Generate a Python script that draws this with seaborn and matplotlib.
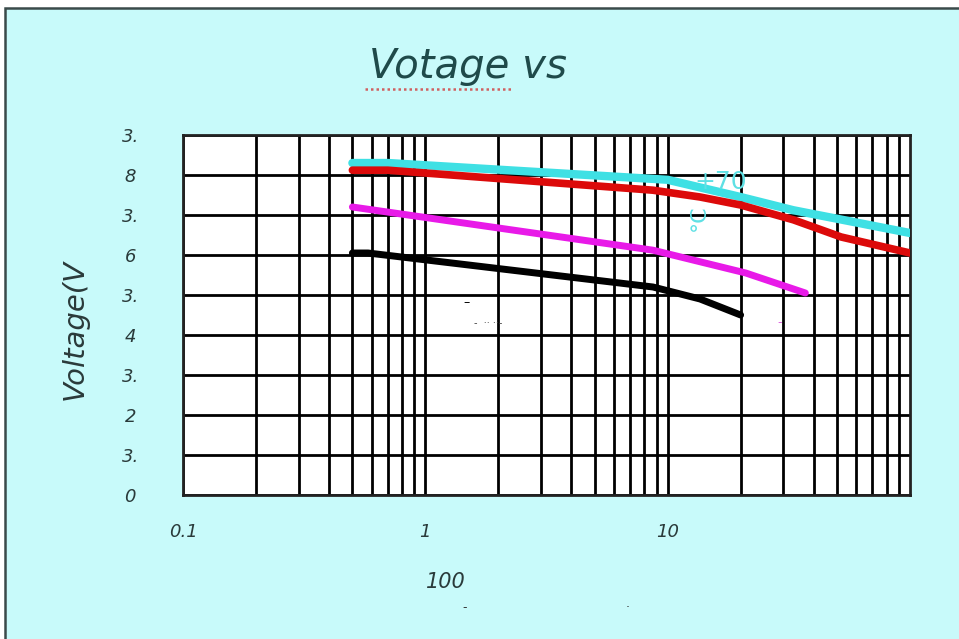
import numpy as np
import pandas as pd
import matplotlib
matplotlib.use("Agg")
import matplotlib.pyplot as plt
from matplotlib.patches import Rectangle
from matplotlib.lines import Line2D
import seaborn as sns

# ---- data ----
cyan_x = [0.5, 0.7, 10, 20, 33, 100]
cyan_y = [8.3, 8.3, 7.88, 7.45, 7.12, 6.55]

red_x = [0.5, 0.7, 8.7, 13.6, 20, 33, 52, 100]
red_y = [8.12, 8.12, 7.62, 7.45, 7.25, 6.88, 6.45, 6.05]

magenta_x = [0.5, 8.7, 21, 37]
magenta_y = [7.2, 6.12, 5.55, 5.05]

black_x = [0.5, 0.58, 8.7, 13.6, 20]
black_y = [6.05, 6.05, 5.2, 4.9, 4.5]

series_names = ["cyan", "red", "magenta", "black"]
series_colors = {"cyan": "#3fe0e4", "red": "#dc0a0a", "magenta": "#e81ae8", "black": "#000000"}
series_widths = {"cyan": 6.0, "red": 5.5, "magenta": 5.0, "black": 5.0}

x_ticks = [0.1, 1, 10]
x_tick_labels = ["0.1", "1", "10"]
y_ticks = [0, 1, 2, 3, 4, 5, 6, 7, 8, 9]
y_tick_labels = ["0", "3.", "2", "3.", "4", "3.", "6", "3.", "8", "3."]

title_text = "Votage vs"
ylabel_text = "Voltage(V"
xlabel_text = "100"

frames = []
for name, xs, ys in [("cyan", cyan_x, cyan_y), ("red", red_x, red_y),
                     ("magenta", magenta_x, magenta_y), ("black", black_x, black_y)]:
    frames.append(pd.DataFrame({"x": xs, "y": ys, "series": name}))
df = pd.concat(frames, ignore_index=True)

sns.set_theme(style="white")
plt.rcParams["font.family"] = ["DejaVu Sans"]

W, H = 959, 639
fig = plt.figure(figsize=(W / 100, H / 100), dpi=100)
fig.patch.set_facecolor("white")
fig.add_artist(Rectangle((5 / W, -0.01), 1.0, (H - 8) / H + 0.01, transform=fig.transFigure,
                         facecolor="#c8fafa", edgecolor="#3a4a4a", linewidth=1.8, zorder=0))

ax = fig.add_axes([183 / W, (H - 495) / H, (910 - 183) / W, (495 - 135) / H])
ax.set_facecolor("white")

ax.set_xscale("log")
ax.set_xlim(0.1, 100)
ax.set_ylim(0, 9)

ax.grid(True, which="both", axis="x", color="black", linewidth=2.0)
ax.grid(True, which="major", axis="y", color="black", linewidth=2.0)
ax.set_axisbelow(True)

for name in series_names:
    sns.lineplot(data=df[df["series"] == name], x="x", y="y", color=series_colors[name],
                 sort=False, estimator=None, linewidth=series_widths[name],
                 legend=False, ax=ax, zorder=3)

ax.set_xticks(x_ticks)
ax.set_xticklabels(x_tick_labels)
ax.set_yticks(y_ticks)
ax.set_yticklabels(y_tick_labels)
ax.tick_params(axis="x", which="both", length=0, pad=20, labelsize=13, colors="#2a3a3a")
ax.tick_params(axis="y", which="both", length=0, pad=38, labelsize=13, colors="#2a3a3a")
for lbl in ax.get_xticklabels():
    lbl.set_fontstyle("italic")
for lbl in ax.get_yticklabels():
    lbl.set_fontstyle("italic")
    lbl.set_horizontalalignment("center")
ax.set_xlabel("")
ax.set_ylabel("")

for s in ax.spines.values():
    s.set_color("#222222")
    s.set_linewidth(2)

ax.set_ylabel(ylabel_text, fontsize=21, fontstyle="italic", color="#2a3a3a")
ax.yaxis.set_label_coords(-0.13, 0.46)
ax.set_xlabel(xlabel_text, fontsize=15, fontstyle="italic", color="#2a3a3a")
ax.xaxis.set_label_coords(0.362, -0.215)

fig.text(468 / W, 1 - 66 / H, title_text, ha="center", va="center", fontsize=29,
         fontstyle="italic", color="#1f4a4a")
fig.add_artist(Line2D([365 / W, 512 / W], [1 - 89 / H, 1 - 89 / H], transform=fig.transFigure,
                      color="#d06060", linewidth=1.8, linestyle=(0, (1, 1.2))))

# cyan annotation
ax.text(0.74, 0.87, "+70", transform=ax.transAxes, color="#5fe0e4", fontsize=18,
        ha="center", va="center")
ax.text(0.71, 0.77, "°C", transform=ax.transAxes, color="#5fe0e4", fontsize=16,
        ha="center", va="center", rotation=90)

# stray marks
ax.text(0.39, 0.525, "–", transform=ax.transAxes, color="black", fontsize=9, ha="center")
ax.text(0.40, 0.47, "-  ·· ··-", transform=ax.transAxes, color="#444444", fontsize=7, ha="left")
ax.text(0.82, 0.47, "-", transform=ax.transAxes, color="#e060e0", fontsize=9, ha="center")
fig.text(465 / W, 1 - 608 / H, "-", ha="center", va="center", fontsize=9, color="#333333")
fig.text(628 / W, 1 - 608 / H, "·", ha="center", va="center", fontsize=9, color="#333333")

fig.savefig("out.png", dpi=100)
